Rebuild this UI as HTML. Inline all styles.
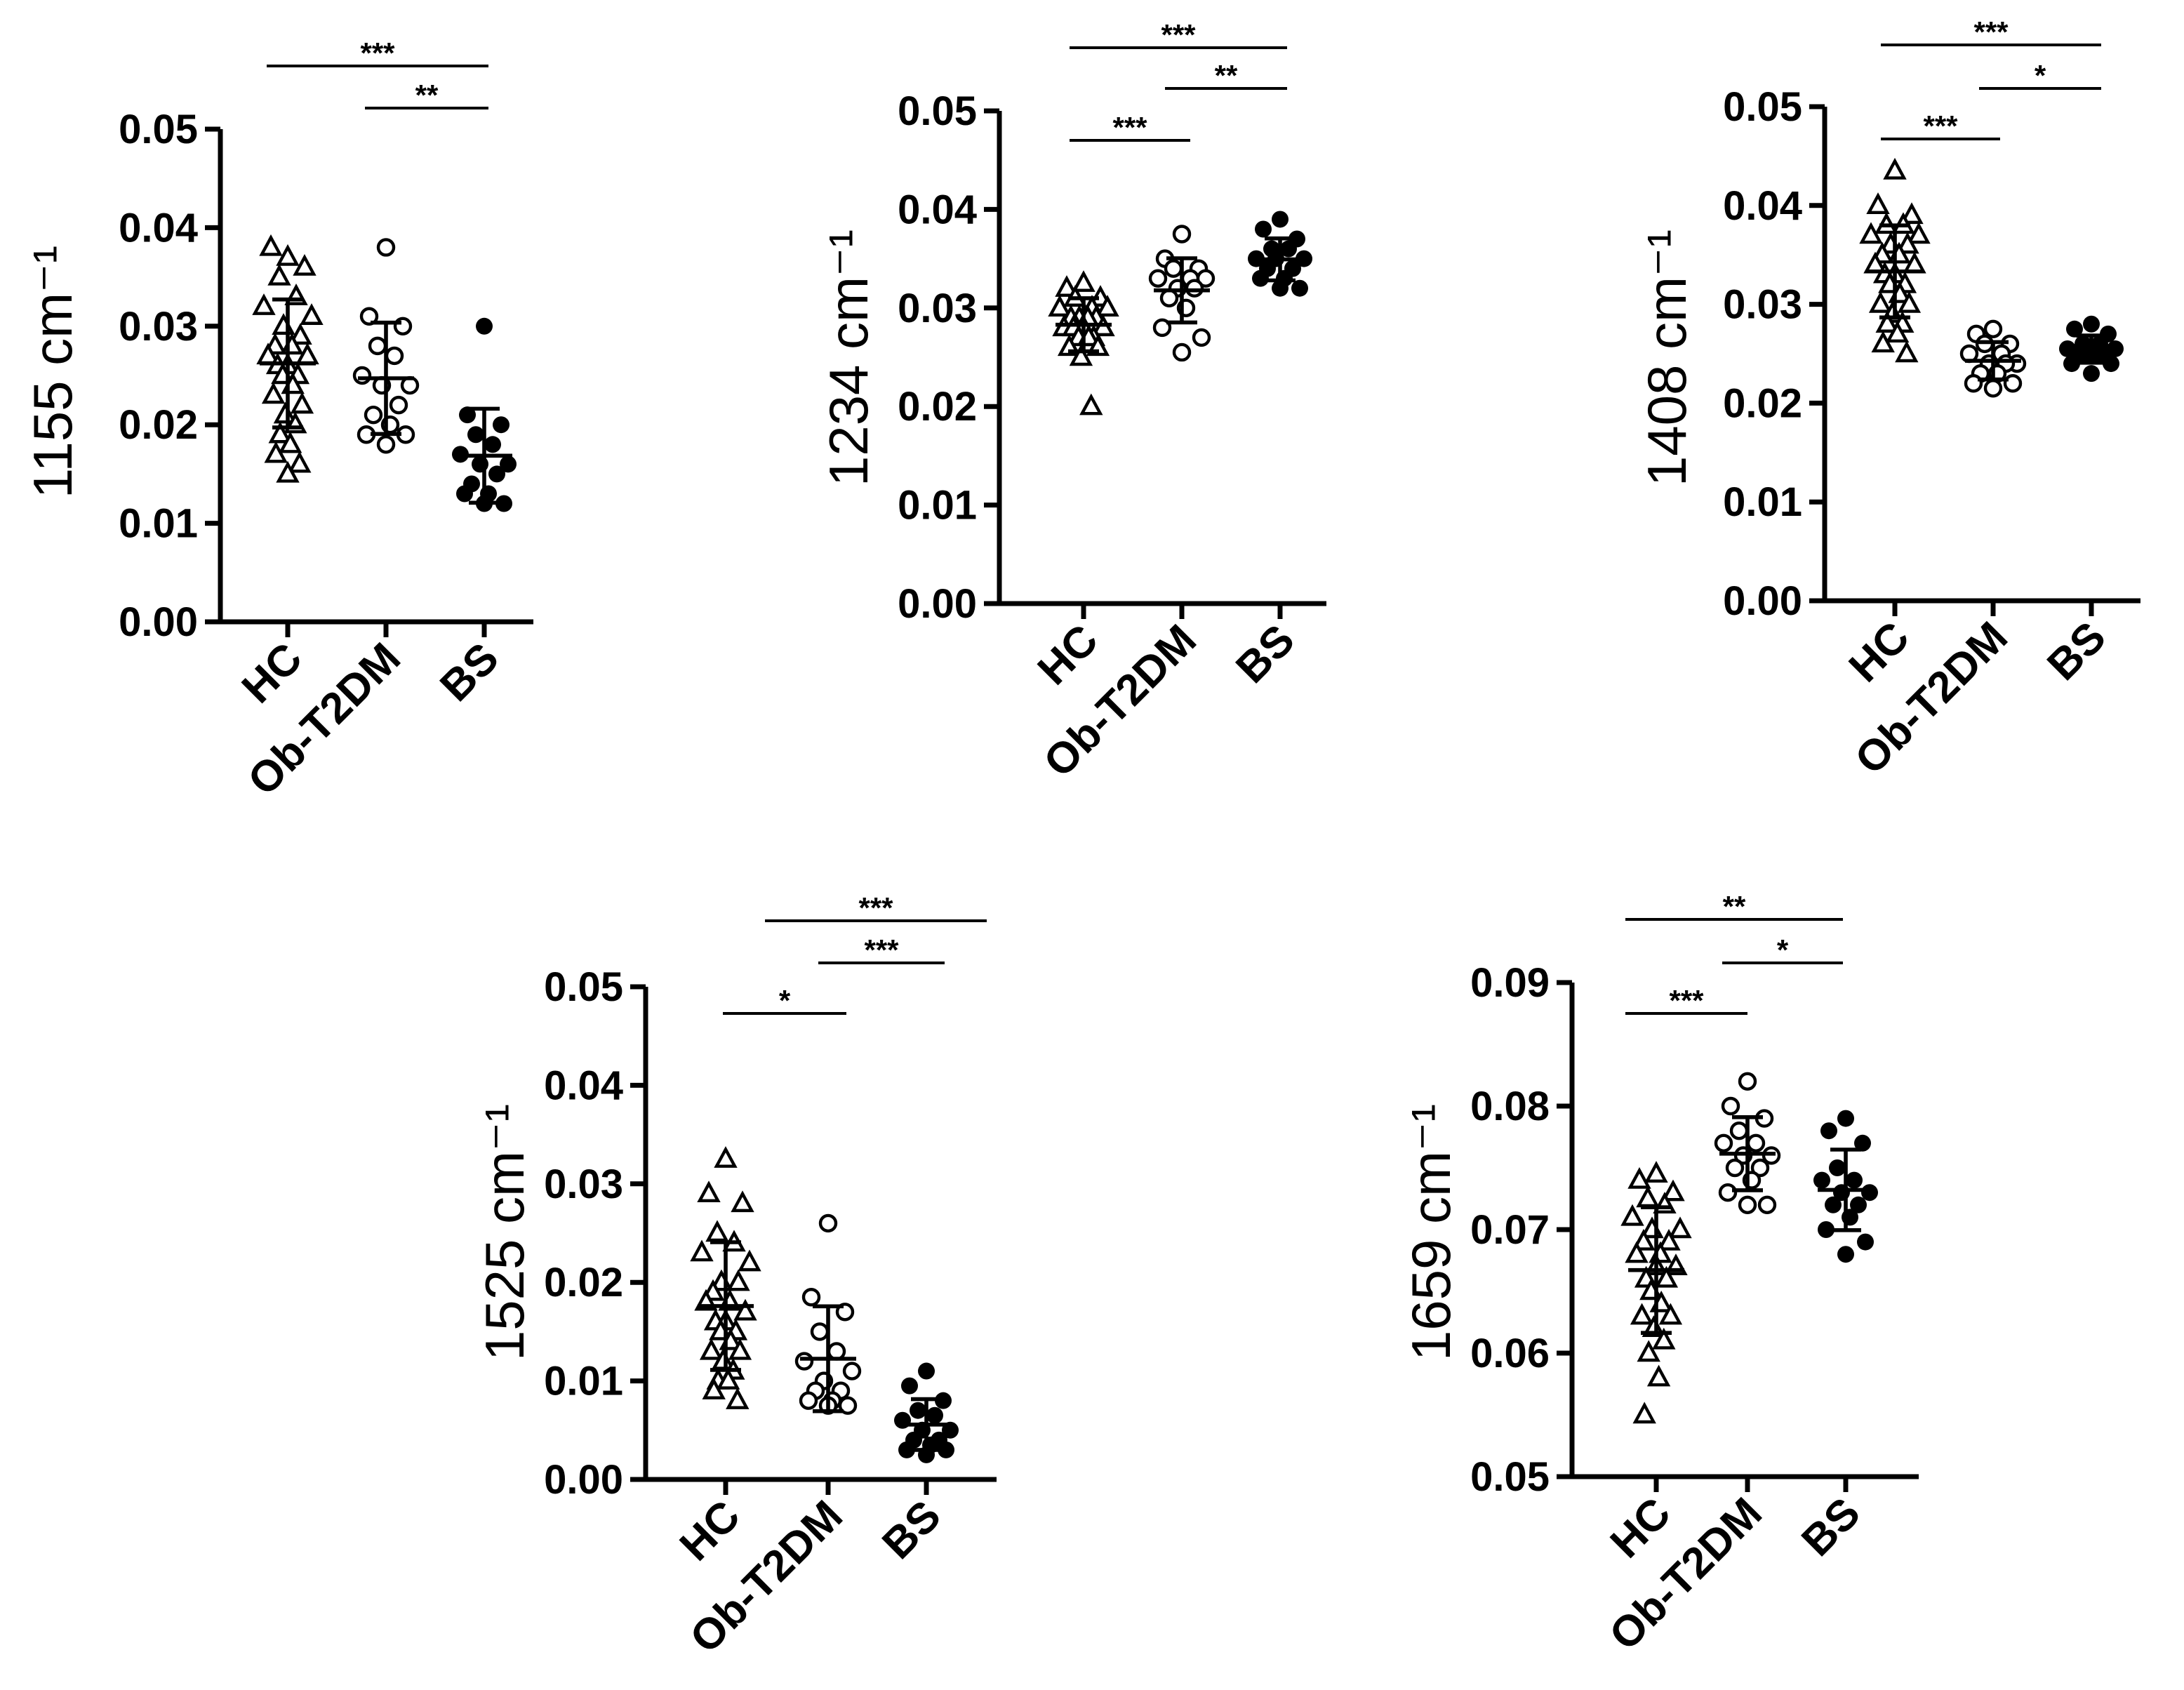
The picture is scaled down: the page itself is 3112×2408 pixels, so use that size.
<!DOCTYPE html>
<html><head><meta charset="utf-8"><style>
html,body{margin:0;padding:0;background:#fff;}
svg{display:block;font-family:"Liberation Sans",Arial,sans-serif;}
</style></head><body>
<svg id="chart" width="3112" height="2408" viewBox="0 0 1556 1204" xmlns="http://www.w3.org/2000/svg"></svg>
<script>
const categories = ["HC","Ob-T2DM","BS"];
const p1Title = "1155 cm\u207B\u00B9", p2Title = "1234 cm\u207B\u00B9", p3Title = "1408 cm\u207B\u00B9", p4Title = "1525 cm\u207B\u00B9", p5Title = "1659 cm\u207B\u00B9";
const ticksA = [0.00,0.01,0.02,0.03,0.04,0.05];
const ticksB = [0.05,0.06,0.07,0.08,0.09];
const p1HC = [0.037,0.038,0.036,0.035,0.033,0.032,0.031,0.030,0.029,0.028,0.028,0.027,0.027,0.026,0.026,0.025,0.025,0.024,0.023,0.022,0.021,0.020,0.019,0.018,0.017,0.016,0.015];
const p1OB = [0.038,0.031,0.030,0.028,0.027,0.025,0.024,0.024,0.022,0.021,0.020,0.019,0.019,0.018];
const p1BS = [0.030,0.021,0.020,0.019,0.018,0.017,0.016,0.016,0.015,0.014,0.013,0.013,0.012,0.012];
const p2HC = [0.0325,0.032,0.031,0.031,0.030,0.030,0.030,0.029,0.029,0.029,0.029,0.028,0.028,0.028,0.028,0.027,0.027,0.027,0.026,0.026,0.025,0.020];
const p2OB = [0.0375,0.035,0.034,0.034,0.033,0.033,0.033,0.032,0.032,0.031,0.030,0.028,0.027,0.0255];
const p2BS = [0.039,0.038,0.037,0.036,0.036,0.035,0.035,0.035,0.034,0.034,0.033,0.033,0.032,0.032];
const p3HC = [0.0435,0.040,0.039,0.038,0.038,0.037,0.037,0.036,0.036,0.035,0.035,0.034,0.034,0.033,0.033,0.032,0.032,0.031,0.030,0.030,0.029,0.028,0.028,0.027,0.026,0.025];
const p3OB = [0.0275,0.027,0.026,0.026,0.025,0.025,0.024,0.024,0.024,0.023,0.023,0.022,0.022,0.0215];
const p3BS = [0.028,0.0275,0.027,0.026,0.026,0.0255,0.0255,0.025,0.025,0.025,0.025,0.024,0.024,0.023];
const p4HC = [0.0325,0.029,0.028,0.025,0.024,0.023,0.022,0.020,0.020,0.019,0.018,0.018,0.017,0.016,0.016,0.015,0.015,0.014,0.013,0.013,0.012,0.011,0.010,0.010,0.009,0.008];
const p4OB = [0.026,0.0185,0.017,0.015,0.013,0.012,0.011,0.010,0.009,0.009,0.008,0.008,0.0075,0.0075];
const p4BS = [0.011,0.0095,0.008,0.007,0.0065,0.006,0.005,0.005,0.004,0.004,0.0035,0.003,0.003,0.0025];
const p5HC = [0.0745,0.074,0.073,0.0725,0.072,0.071,0.070,0.070,0.069,0.069,0.068,0.068,0.067,0.067,0.066,0.066,0.065,0.064,0.063,0.063,0.062,0.061,0.060,0.058,0.055];
const p5OB = [0.082,0.080,0.079,0.078,0.077,0.077,0.076,0.076,0.075,0.075,0.074,0.073,0.072,0.072];
const p5BS = [0.079,0.078,0.077,0.075,0.074,0.074,0.073,0.073,0.072,0.072,0.071,0.070,0.069,0.068];
const p1Sig = ["***","**"], p2Sig = ["***","**","***"], p3Sig = ["***","*","***"], p4Sig = ["***","***","*"], p5Sig = ["**","*","***"];

const NS="http://www.w3.org/2000/svg";
const svg=document.getElementById('chart');
function mk(tag,attrs,parent){const e=document.createElementNS(NS,tag);for(const k in attrs)e.setAttribute(k,attrs[k]);(parent||svg).appendChild(e);return e;}

const panels=[
 {id:'p1',title:p1Title,ticks:ticksA,data:[p1HC,p1OB,p1BS],ax:157,y0:443,ytop:92,cx:[205,275,345],xend:380,tx:38,ty:265,
  sig:p1Sig,br:[[190,348,47],[260,348,77]]},
 {id:'p2',title:p2Title,ticks:ticksA,data:[p2HC,p2OB,p2BS],ax:712,y0:430,ytop:79,cx:[772,842,912],xend:945,tx:605,ty:255,
  sig:p2Sig,br:[[762,917,34],[830,917,63],[762,848,100]]},
 {id:'p3',title:p3Title,ticks:ticksA,data:[p3HC,p3OB,p3BS],ax:1300,y0:428,ytop:76,cx:[1350,1420,1490],xend:1525,tx:1188,ty:255,
  sig:p3Sig,br:[[1340,1497,32],[1410,1497,63],[1340,1425,99]]},
 {id:'p4',title:p4Title,ticks:ticksA,data:[p4HC,p4OB,p4BS],ax:460,y0:1054,ytop:703,cx:[517,590,660],xend:710,tx:360,ty:878,
  sig:p4Sig,br:[[545,703,656],[583,673,686],[515,603,722]]},
 {id:'p5',title:p5Title,ticks:ticksB,data:[p5HC,p5OB,p5BS],ax:1120,y0:1052,ytop:700,cx:[1180,1245,1315],xend:1367,tx:1020,ty:878,
  sig:p5Sig,br:[[1158,1313,655],[1227,1313,686],[1158,1245,722]]}
];
const jit=[0,-12,12,-6,6,-17,17,-3,9,-9,3,-14,14];

panels.forEach(p=>{
  const g=mk('g',{});
  
  
  const tmin=p.ticks[0],tmax=p.ticks[p.ticks.length-1];
  const y=v=>p.y0-(v-tmin)/(tmax-tmin)*(p.y0-p.ytop);
  const ya=mk('line',{x1:p.ax,y1:p.ytop,x2:p.ax,y2:p.y0,stroke:'#000','stroke-width':3.5},g);
  
  
  const xa=mk('line',{x1:p.ax-1.5,y1:p.y0,x2:p.xend,y2:p.y0,stroke:'#000','stroke-width':3.5},g);
  
  
  p.ticks.forEach(t=>{
    mk('line',{x1:p.ax-11,y1:y(t),x2:p.ax,y2:y(t),stroke:'#000','stroke-width':3.5},g);
    const tl=mk('text',{x:p.ax-16,y:y(t)+10,'text-anchor':'end','font-size':29,'font-weight':'bold'},g);
    tl.textContent=t.toFixed(2);
    
    
  });
  const tt=mk('text',{x:0,y:0,'text-anchor':'middle','font-size':39,transform:`translate(${p.tx+13},${p.ty}) rotate(-90)`},g);
  tt.textContent=p.title;
  
  
  categories.forEach((c,i)=>{
    const cx=p.cx[i];
    mk('line',{x1:cx,y1:p.y0,x2:cx,y2:p.y0+11,stroke:'#000','stroke-width':3.5},g);
    const cl=mk('text',{x:0,y:0,'text-anchor':'end','font-size':31,'font-weight':'bold',transform:`translate(${cx+12},${p.y0+28}) rotate(-45)`},g);
    cl.textContent=c;
    
    
    const vals=p.data[i];
    vals.forEach((v,k)=>{
      const px=cx+jit[k%jit.length]*(k<jit.length?1:0.6), py=y(v);
      let m;
      if(i===0){m=mk('polygon',{points:`${px},${py-7} ${px-6.5},${py+5} ${px+6.5},${py+5}`,fill:'#fff',stroke:'#000','stroke-width':2.2},g);}
      else if(i===1){m=mk('circle',{cx:px,cy:py,r:5.5,fill:'#fff',stroke:'#000','stroke-width':2.2},g);}
      else{m=mk('circle',{cx:px,cy:py,r:6,fill:'#000'},g);}
      
      
    });
    const mean=vals.reduce((a,b)=>a+b,0)/vals.length;
    const sd=Math.sqrt(vals.reduce((a,b)=>a+(b-mean)*(b-mean),0)/(vals.length-1));
    const eb=mk('g',{stroke:'#000','stroke-width':2.8},g);
    
    
    mk('line',{x1:cx-20,y1:y(mean),x2:cx+20,y2:y(mean)},eb);
    mk('line',{x1:cx,y1:y(mean-sd),x2:cx,y2:y(mean+sd)},eb);
    mk('line',{x1:cx-11,y1:y(mean-sd),x2:cx+11,y2:y(mean-sd)},eb);
    mk('line',{x1:cx-11,y1:y(mean+sd),x2:cx+11,y2:y(mean+sd)},eb);
  });
  p.br.forEach((b,j)=>{
    const bl=mk('line',{x1:b[0],y1:b[2],x2:b[1],y2:b[2],stroke:'#000','stroke-width':2},g);
    
    
    const st=mk('text',{x:(b[0]+b[1])/2,y:b[2]-2,'text-anchor':'middle','font-size':21,'font-weight':'bold'},g);
    st.textContent=p.sig[j];
    
    
  });
});
</script>
</body></html>
